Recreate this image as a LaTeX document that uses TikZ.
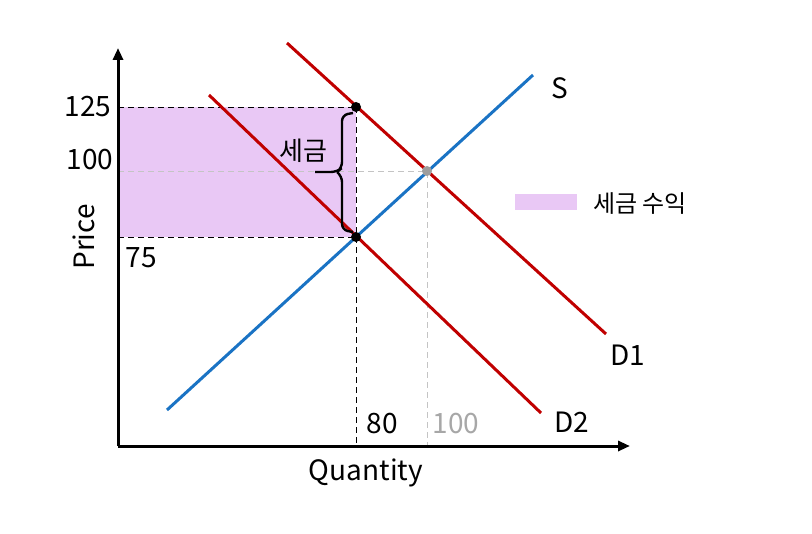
\documentclass[tikz,border=0pt]{standalone}
\usepackage{fontspec}
\setmainfont{Noto Sans CJK KR}
\usetikzlibrary{arrows.meta, positioning, calc}

\definecolor{taxfill}{HTML}{E9C8F5}
\definecolor{supply}{HTML}{1A73C4}
\definecolor{demand}{HTML}{C00000}
\definecolor{guide}{HTML}{C4C4C4}

\begin{document}
\begin{tikzpicture}[
    x=0.5pt, y=-0.5pt,
    axis/.style={-{Triangle[length=6pt,width=5pt]}, line width=1.5pt},
    curve/.style={line width=1.5pt},
    guideline/.style={densely dashed, line width=0.4pt},
    dot/.style={circle, fill, inner sep=0pt, minimum size=5pt},
    lbl/.style={font=\fontsize{14}{16}\selectfont, inner sep=1pt}
]
\useasboundingbox (0,0) rectangle (812,534);

% key points
\coordinate (origin) at (118,446);
\coordinate (ytop) at (118,48);
\coordinate (xend) at (630,446);
\coordinate (sstart) at (167,410);
\coordinate (send) at (533,75);
\coordinate (done) at (287,43);
\coordinate (doneend) at (606,334);
\coordinate (dtwo) at (209,95);
\coordinate (dtwoend) at (541,413);

% tax revenue area
\fill [taxfill] (118,107) rectangle (356,237);

% guide lines
\draw [guideline, guide] (118,171) -- (427,171) -- (427,446);
\draw [guideline] (118,107) -- (356,107);
\draw [guideline] (118,237) -- (356,237);
\draw [guideline] (356,107) -- (356,446);

% axes
\draw [axis] (origin) -- (ytop);
\draw [axis] (origin) -- (xend);

% supply and demand
\draw [curve, supply] (sstart) -- (send);
\draw [curve, demand] (done) -- (doneend);
\draw [curve, demand] (dtwo) -- (dtwoend);

\node (ptop) [dot] at (356,107) {};
\node (pbot) [dot] at (356,237) {};
\node (peq) [dot, fill=guide!80!black] at (427,171) {};

% tax brace
\draw [line width=1.2pt, rounded corners=3pt]
    (353,113) -- (342,115) -- (342,168) -- (337,172) -- (315,172);
\draw [line width=1.2pt, rounded corners=3pt]
    (337,172) -- (342,176) -- (342,230) -- (353,232);
\node (tax) [lbl, font=\fontsize{13}{15}\selectfont] at (303,151) {세금};

% labels
\node (p125) [lbl] at (88,107) {125};
\node (p100) [lbl] at (90,160) {100};
\node (p75) [lbl] at (141,258) {75};
\node (price) [lbl, rotate=90] at (84,237) {Price};
\node (quantity) [lbl] at (366,473) {Quantity};
\node (q80) [lbl] at (382,424) {80};
\node (q100) [lbl, text=guide!85!black] at (456,424) {100};
\node (slabel) [lbl] at (560,88) {S};
\node (donelabel) [lbl] at (628,355) {D1};
\node (dtwolabel) [lbl] at (572,422) {D2};

% legend
\fill [taxfill] (515,194) rectangle (577,210);
\node (legend) [lbl, font=\fontsize{12}{14}\selectfont] at (640,204) {세금 수익};

\end{tikzpicture}
\end{document}
